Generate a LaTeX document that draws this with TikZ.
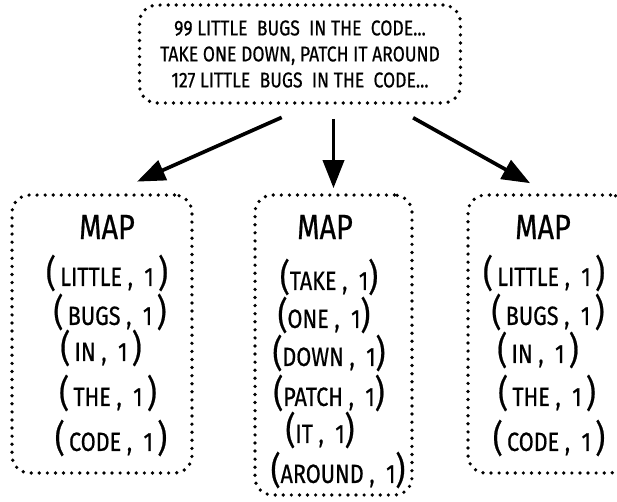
\documentclass[tikz,border=0pt]{standalone}
\usepackage{fontspec}
\setmainfont{Fira Sans}[FakeStretch=0.82, FakeBold=0.6]
\usetikzlibrary{arrows.meta,positioning}

\newcommand{\lpar}{{\fontsize{21}{21}\selectfont(}}
\newcommand{\rpar}{{\fontsize{21}{21}\selectfont)}}

\tikzset{
  dotbox/.style={draw, line width=2.1pt, dash pattern=on 0pt off 4.6pt,
    line cap=round, rounded corners=0.35cm},
  flow/.style={-{Triangle[length=16pt,width=12pt]}, line width=2.1pt},
  maphead/.style={font=\fontsize{20}{22}\selectfont},
  pairtxt/.style={font=\fontsize{15}{17}\selectfont},
}

\begin{document}
\begin{tikzpicture}[x=0.02cm, y=-0.02cm]
  \useasboundingbox (0,0) rectangle (617,501);
  %% ── Top: the input text ──────────────────────────────────
  \node[dotbox, minimum width=6.42cm, minimum height=1.96cm, align=center,
        font=\fontsize{12.2}{14.8}\selectfont] (song) at (300,54)
    {99 LITTLE\ \ BUGS\ \ IN THE\ \ CODE...\\
     TAKE ONE DOWN, PATCH IT AROUND\\
     127 LITTLE\ \ BUGS\ \ IN THE\ \ CODE...};

  %% ── Map boxes ───────────────────────────────────────────
  \node[dotbox, minimum width=3.6cm,  minimum height=5.56cm] (mapA) at (102,334) {};
  \node[dotbox, minimum width=3.14cm, minimum height=6.0cm]  (mapB) at (333.5,345) {};
  \node[dotbox, minimum width=3.2cm,  minimum height=5.56cm] (mapC) at (548,334) {};

  %% Headings
  \node[maphead] (mapAhead) at (107,227) {MAP};
  \node[maphead] (mapBhead) at (325,227) {MAP};
  \node[maphead] (mapChead) at (543,227) {MAP};

  %% Key/value pairs
  \foreach \i/\x/\y/\w in {1/107/273/LITTLE, 2/110/312/BUGS, 3/101/348/IN,
                           4/108/393/THE, 5/111/438/CODE}{
    \node[pairtxt] (pairA\i) at (\x,\y) {\lpar\,\w\ ,\ \ 1\,\rpar};
  }
  \foreach \i/\x/\y/\w in {1/329/277/TAKE, 2/324/315/ONE, 3/329/353/DOWN,
                           4/329/393/PATCH, 5/320/430/IT, 6/338/470/AROUND}{
    \node[pairtxt] (pairB\i) at (\x,\y) {\lpar\w\ ,\ \ 1\rpar};
  }
  \foreach \i/\x/\y/\w in {1/544/273/LITTLE, 2/548/312/BUGS, 3/538/350/IN,
                           4/547/393/THE, 5/549/438/CODE}{
    \node[pairtxt] (pairC\i) at (\x,\y) {\lpar\,\w\ ,\ \ 1\,\rpar};
  }

  %% ── Arrows: split the text over the maps ───────────────
  \draw[flow, shorten <=0.62cm, shorten >=0.57cm]
    ([xshift=0.2cm]song.south) -- ([xshift=0.18cm]mapA.north);
  \draw[flow, shorten <=0.28cm, shorten >=0.1cm]
    (song.south -| mapB.north) -- (mapB.north);
  \draw[flow, shorten <=0.53cm, shorten >=0.41cm]
    ([xshift=1.8cm]song.south) -- (mapC.north);
\end{tikzpicture}
\end{document}
